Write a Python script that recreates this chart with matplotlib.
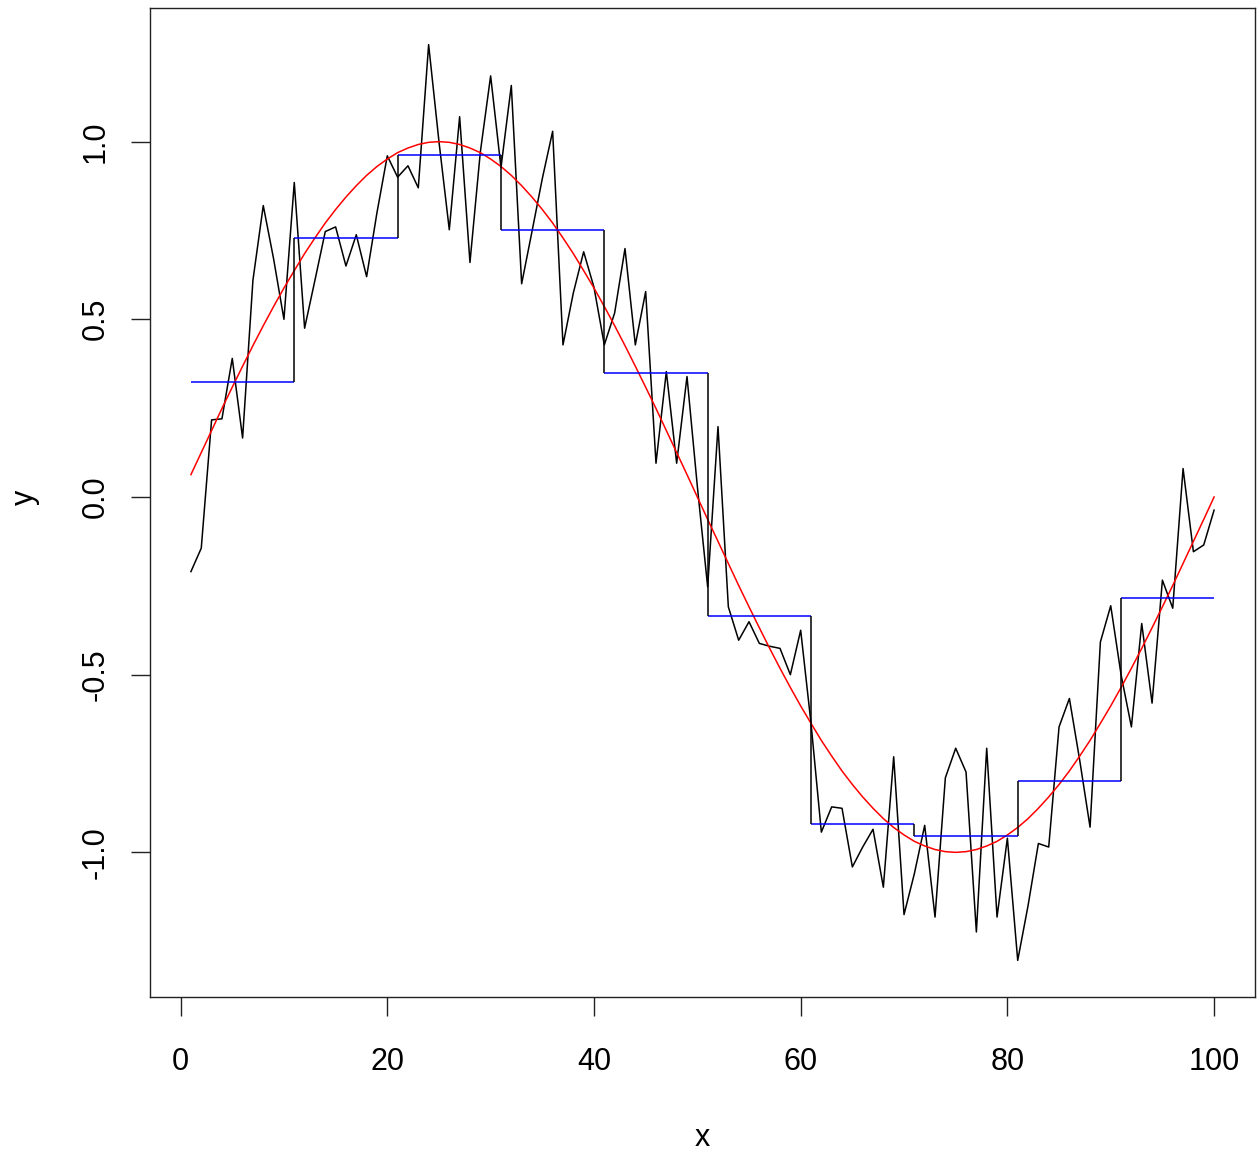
import matplotlib.pyplot as plt
import numpy as np

plt.rcParams['font.family'] = ['Liberation Sans', 'DejaVu Sans']

# noisy observations, x = 1..100
x = list(range(1, 101))
y = [-0.210, -0.144, 0.217, 0.220, 0.390, 0.166, 0.610, 0.820, 0.670, 0.500,
     0.885, 0.475, 0.610, 0.747, 0.760, 0.650, 0.738, 0.620, 0.800, 0.960,
     0.900, 0.932, 0.870, 1.273, 1.000, 0.752, 1.070, 0.660, 0.970, 1.185,
     0.927, 1.158, 0.600, 0.747, 0.896, 1.029, 0.428, 0.574, 0.690, 0.590,
     0.428, 0.518, 0.699, 0.428, 0.578, 0.095, 0.353, 0.095, 0.339, 0.030,
     -0.253, 0.198, -0.309, -0.403, -0.351, -0.412, -0.420, -0.426, -0.500, -0.375,
     -0.637, -0.943, -0.872, -0.876, -1.041, -0.985, -0.935, -1.098, -0.731, -1.175,
     -1.060, -0.924, -1.182, -0.790, -0.707, -0.774, -1.224, -0.707, -1.182, -0.960,
     -1.304, -1.150, -0.975, -0.985, -0.647, -0.567, -0.741, -0.929, -0.408, -0.306,
     -0.500, -0.647, -0.356, -0.580, -0.234, -0.313, 0.080, -0.154, -0.135, -0.037]

# true curve (red)
truth = [0.063, 0.125, 0.187, 0.249, 0.309, 0.368, 0.426, 0.482, 0.536, 0.588,
         0.637, 0.685, 0.729, 0.771, 0.809, 0.844, 0.876, 0.905, 0.930, 0.951,
         0.969, 0.982, 0.992, 0.998, 1.000, 0.998, 0.992, 0.982, 0.969, 0.951,
         0.930, 0.905, 0.876, 0.844, 0.809, 0.771, 0.729, 0.685, 0.637, 0.588,
         0.536, 0.482, 0.426, 0.368, 0.309, 0.249, 0.187, 0.125, 0.063, 0.000,
         -0.063, -0.125, -0.187, -0.249, -0.309, -0.368, -0.426, -0.482, -0.536, -0.588,
         -0.637, -0.685, -0.729, -0.771, -0.809, -0.844, -0.876, -0.905, -0.930, -0.951,
         -0.969, -0.982, -0.992, -0.998, -1.000, -0.998, -0.992, -0.982, -0.969, -0.951,
         -0.930, -0.905, -0.876, -0.844, -0.809, -0.771, -0.729, -0.685, -0.637, -0.588,
         -0.536, -0.482, -0.426, -0.368, -0.309, -0.249, -0.187, -0.125, -0.063, 0.000]

# bin means (blue steps)
bin_start = [1, 11, 21, 31, 41, 51, 61, 71, 81, 91]
bin_end = [11, 21, 31, 41, 51, 61, 71, 81, 91, 100]
bin_mean = [0.324, 0.730, 0.963, 0.752, 0.349, -0.335, -0.921, -0.955, -0.800, -0.285]

W, H = 1257, 1157
fig = plt.figure(figsize=(W / 100, H / 100), dpi=100)
ax = fig.add_axes([150 / W, (H - 997) / H, (1255 - 150) / W, (997 - 8) / H])

ax.plot(x, y, color='black', lw=1.1)
ax.plot(x, truth, color='red', lw=1.1)
ax.hlines(bin_mean, bin_start, bin_end, color='blue', lw=1.1)
ax.vlines(bin_start[1:], bin_mean[:-1], bin_mean[1:], color='black', lw=1.1)

ax.set_xlim(-2.96, 103.96)
ax.set_ylim(-1.407, 1.376)
ax.set_xticks([0, 20, 40, 60, 80, 100])
ax.set_yticks([-1.0, -0.5, 0.0, 0.5, 1.0])
ax.set_yticklabels(['-1.0', '-0.5', '0.0', '0.5', '1.0'])

for s in ax.spines.values():
    s.set_linewidth(1.0)
    s.set_color('#222222')
ax.tick_params(axis='both', length=14, width=1.0, color='#222222', labelsize=22)
ax.tick_params(axis='x', pad=22)
ax.tick_params(axis='y', pad=14, labelrotation=90)
for lab in ax.get_yticklabels():
    lab.set_va('center')

fig.text(702 / W, 1 - 1138 / H, 'x', fontsize=22, ha='center', va='center')
fig.text(25 / W, 1 - 497 / H, 'y', fontsize=22, ha='center', va='center', rotation=90)

fig.savefig('out.png', dpi=100)
